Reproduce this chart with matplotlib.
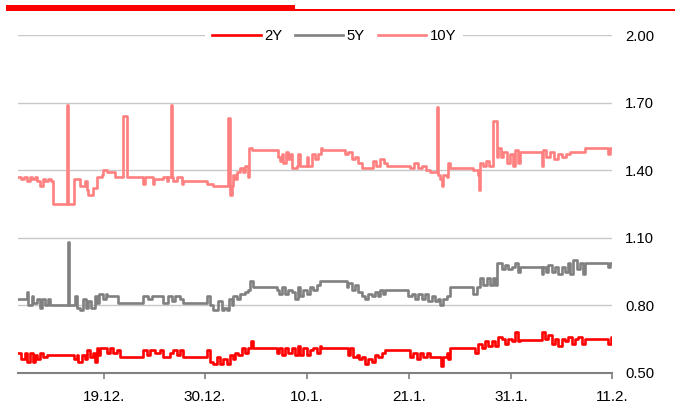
import numpy as np
import matplotlib.pyplot as plt
from matplotlib.patches import Rectangle

idx_10y = [0, 3, 6, 9, 12, 14, 17, 19, 22, 25, 27, 30, 33, 35, 49, 50, 56, 62, 67, 69, 70, 75, 79, 84, 85, 89, 97,
           105, 109, 125, 127, 135, 136, 137, 145, 149, 150, 153, 154, 155, 159, 164, 165, 189, 195, 210, 212, 214,
           215, 217, 219, 222, 225, 227, 230, 231, 234, 260, 262, 264, 265, 268, 270, 272, 274, 279, 280, 282, 289,
           290, 294, 297, 300, 303, 304, 327, 330, 334, 337, 340, 344, 355, 358, 362, 366, 369, 392, 396, 400, 404,
           408, 412, 419, 420, 422, 424, 425, 429, 430, 432, 455, 460, 461, 462, 465, 468, 471, 475, 479, 480, 483,
           485, 489, 492, 495, 497, 500, 502, 504, 524, 525, 528, 532, 536, 540, 544, 548, 552, 567, 590, 592, 594]
val_10y = [1.37, 1.36, 1.37, 1.35, 1.37, 1.36, 1.37, 1.35, 1.33, 1.36, 1.35, 1.36, 1.35, 1.25, 1.69, 1.25, 1.36,
           1.33, 1.35, 1.31, 1.29, 1.32, 1.37, 1.38, 1.40, 1.39, 1.37, 1.64, 1.37, 1.34, 1.37, 1.34, 1.36, 1.36,
           1.37, 1.35, 1.37, 1.69, 1.37, 1.35, 1.37, 1.34, 1.35, 1.34, 1.33, 1.63, 1.29, 1.33, 1.38, 1.36, 1.39,
           1.41, 1.39, 1.42, 1.37, 1.50, 1.49, 1.46, 1.44, 1.47, 1.43, 1.48, 1.45, 1.47, 1.41, 1.42, 1.47, 1.42,
           1.46, 1.42, 1.47, 1.45, 1.47, 1.50, 1.49, 1.47, 1.48, 1.45, 1.46, 1.43, 1.41, 1.44, 1.42, 1.45, 1.43,
           1.42, 1.41, 1.43, 1.41, 1.42, 1.40, 1.39, 1.68, 1.38, 1.36, 1.33, 1.38, 1.37, 1.43, 1.41, 1.40, 1.38,
           1.31, 1.43, 1.42, 1.44, 1.42, 1.62, 1.46, 1.50, 1.46, 1.48, 1.43, 1.47, 1.42, 1.49, 1.43, 1.48, 1.48,
           1.42, 1.49, 1.46, 1.48, 1.45, 1.47, 1.46, 1.47, 1.48, 1.50, 1.47, 1.50, 1.50]

idx_5y = [0, 9, 10, 14, 15, 19, 22, 24, 27, 30, 32, 50, 51, 57, 59, 62, 65, 68, 70, 73, 77, 79, 81, 85, 88, 89,
          100, 125, 130, 134, 139, 145, 150, 154, 157, 162, 165, 189, 192, 195, 200, 204, 206, 209, 211, 214, 215,
          219, 222, 227, 230, 232, 235, 259, 261, 264, 267, 270, 274, 277, 280, 282, 285, 289, 292, 295, 299, 302,
          329, 330, 334, 337, 340, 344, 347, 350, 354, 357, 360, 362, 365, 367, 390, 394, 397, 400, 404, 407, 410,
          414, 417, 420, 422, 425, 429, 432, 455, 459, 462, 465, 469, 472, 475, 477, 479, 484, 487, 490, 494, 497,
          500, 502, 504, 524, 525, 528, 530, 534, 537, 540, 544, 547, 550, 552, 555, 559, 562, 565, 567, 590, 592,
          594]
val_5y = [0.83, 0.86, 0.80, 0.84, 0.81, 0.83, 0.79, 0.83, 0.80, 0.83, 0.80, 1.08, 0.80, 0.84, 0.79, 0.78, 0.83,
          0.79, 0.82, 0.79, 0.84, 0.81, 0.85, 0.83, 0.85, 0.84, 0.81, 0.84, 0.83, 0.84, 0.84, 0.81, 0.84, 0.82,
          0.84, 0.83, 0.81, 0.84, 0.80, 0.78, 0.82, 0.78, 0.79, 0.78, 0.83, 0.80, 0.84, 0.83, 0.85, 0.86, 0.87,
          0.91, 0.88, 0.87, 0.85, 0.88, 0.85, 0.87, 0.86, 0.83, 0.88, 0.84, 0.87, 0.85, 0.88, 0.87, 0.89, 0.91,
          0.88, 0.90, 0.87, 0.89, 0.86, 0.84, 0.83, 0.85, 0.84, 0.86, 0.84, 0.87, 0.85, 0.87, 0.84, 0.85, 0.83,
          0.85, 0.83, 0.85, 0.82, 0.84, 0.82, 0.83, 0.80, 0.83, 0.84, 0.88, 0.85, 0.88, 0.92, 0.89, 0.92, 0.89,
          0.92, 0.89, 0.99, 0.96, 0.98, 0.96, 0.97, 0.99, 0.95, 0.97, 0.97, 0.94, 0.97, 0.95, 0.98, 0.95, 0.97,
          0.94, 0.97, 0.95, 0.99, 0.94, 1.00, 0.96, 0.99, 0.94, 0.99, 0.97, 0.99, 0.99]

idx_2y = [0, 3, 7, 9, 12, 15, 17, 19, 22, 25, 29, 32, 56, 59, 60, 64, 67, 69, 72, 75, 77, 79, 80, 82, 89, 92, 95,
          99, 102, 125, 129, 132, 137, 142, 145, 152, 155, 159, 162, 165, 189, 192, 195, 199, 202, 205, 209, 212,
          215, 217, 220, 224, 227, 230, 233, 235, 259, 261, 264, 267, 270, 274, 277, 280, 282, 285, 289, 292, 295,
          299, 302, 303, 330, 332, 335, 339, 341, 344, 347, 350, 354, 357, 360, 364, 367, 392, 395, 399, 402, 405,
          409, 412, 423, 425, 429, 430, 432, 457, 460, 464, 467, 470, 474, 477, 480, 484, 487, 490, 494, 497, 500,
          502, 524, 527, 530, 534, 537, 540, 544, 547, 550, 554, 557, 560, 564, 567, 590, 593, 594]
val_2y = [0.59, 0.56, 0.59, 0.55, 0.59, 0.55, 0.58, 0.56, 0.59, 0.57, 0.58, 0.58, 0.56, 0.58, 0.55, 0.58, 0.56,
          0.60, 0.57, 0.59, 0.55, 0.61, 0.58, 0.61, 0.59, 0.61, 0.59, 0.60, 0.57, 0.60, 0.58, 0.60, 0.59, 0.60,
          0.57, 0.59, 0.60, 0.58, 0.60, 0.57, 0.60, 0.55, 0.54, 0.57, 0.54, 0.56, 0.54, 0.58, 0.56, 0.59, 0.58,
          0.61, 0.59, 0.61, 0.64, 0.61, 0.59, 0.61, 0.58, 0.61, 0.59, 0.61, 0.58, 0.62, 0.58, 0.61, 0.58, 0.60,
          0.61, 0.59, 0.62, 0.61, 0.58, 0.61, 0.57, 0.58, 0.56, 0.57, 0.54, 0.56, 0.55, 0.58, 0.57, 0.59, 0.60,
          0.57, 0.59, 0.56, 0.59, 0.57, 0.59, 0.57, 0.53, 0.57, 0.59, 0.56, 0.61, 0.59, 0.63, 0.61, 0.64, 0.62,
          0.64, 0.62, 0.66, 0.65, 0.63, 0.65, 0.64, 0.68, 0.64, 0.645, 0.68, 0.65, 0.67, 0.63, 0.65, 0.62, 0.65,
          0.64, 0.66, 0.63, 0.65, 0.66, 0.63, 0.65, 0.63, 0.66, 0.66]

tick_pos = [86, 187, 289, 391, 493, 594]
tick_labels = ['19.12.', '30.12.', '10.1.', '21.1.', '31.1.', '11.2.']
y_ticks = [0.50, 0.80, 1.10, 1.40, 1.70, 2.00]

plt.rcParams['font.family'] = ['Liberation Sans', 'DejaVu Sans']

fig = plt.figure(figsize=(6.75, 4.16), dpi=100)
ax = fig.add_axes([18 / 675, 1 - 373 / 416, 594 / 675, 338 / 416])

# red header bar
fig.add_artist(Rectangle((6 / 675, 1 - 10.7 / 416), 289 / 675, 5.7 / 416,
                         transform=fig.transFigure, color='#FF0000', lw=0))
fig.add_artist(Rectangle((295 / 675, 1 - 10.7 / 416), 380 / 675, 1.8 / 416,
                         transform=fig.transFigure, color='#FF0000', lw=0))

ax.step(idx_2y, val_2y, where='post', color='#FF0000', lw=1.9, label='2Y', zorder=4)
ax.step(idx_5y, val_5y, where='post', color='#808080', lw=1.9, label='5Y', zorder=3)
ax.step(idx_10y, val_10y, where='post', color='#FF8080', lw=1.9, label='10Y', zorder=3)

ax.set_xlim(0, 594)
ax.set_ylim(0.5, 2.0)
ax.set_yticks(y_ticks)
ax.set_yticklabels(['%.2f' % v for v in y_ticks])
ax.yaxis.tick_right()
ax.tick_params(axis='y', length=0, pad=9.5, labelsize=10.7)
ax.set_xticks(tick_pos)
ax.set_xticklabels(tick_labels)
ax.tick_params(axis='x', length=4.5, width=1.2, color='#808080', pad=7.5, labelsize=11)

ax.grid(axis='y', color='#C8C8C8', lw=1)
ax.set_axisbelow(True)
for s in ['top', 'left', 'right']:
    ax.spines[s].set_visible(False)
ax.spines['bottom'].set_color('#808080')
ax.spines['bottom'].set_linewidth(1.5)
ax.spines['bottom'].set_zorder(5)

leg = ax.legend(loc='center', bbox_to_anchor=(0.532, 0.997), ncol=3, fontsize=10.7,
                frameon=True, facecolor='white', edgecolor='none', framealpha=1,
                handlelength=3.28, handletextpad=0.23, columnspacing=0.85,
                borderpad=0.45, borderaxespad=0)
leg.get_frame().set_boxstyle('square', pad=0)

fig.savefig('out.png', dpi=100)
